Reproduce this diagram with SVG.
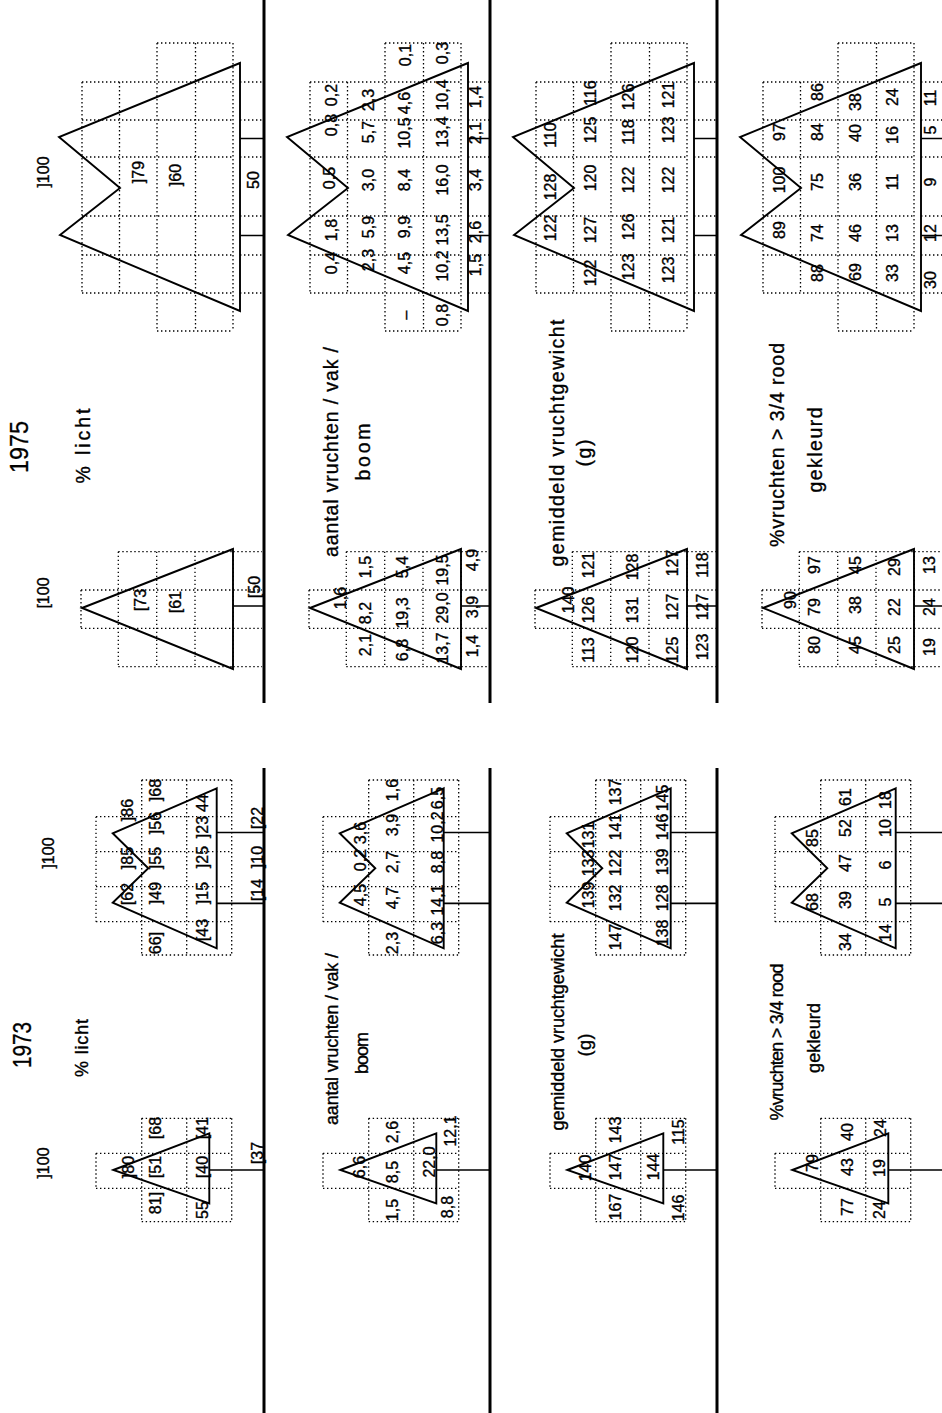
<svg xmlns="http://www.w3.org/2000/svg" xmlns:xlink="http://www.w3.org/1999/xlink" width="942" height="1413" viewBox="0 0 942 1413">
<style>
.sep{stroke:#000;stroke-width:3;fill:none}
.tree{fill:none;stroke:#000;stroke-width:1.9;stroke-linejoin:miter}
.trunk{stroke:#000;stroke-width:1.7;fill:none}
.grid{stroke:#000;stroke-width:1.3;stroke-dasharray:1.4 2.6;fill:none}
.n{font-family:"Liberation Sans Narrow","Liberation Sans",Arial,sans-serif;font-size:16px;text-anchor:middle;dominant-baseline:central;fill:#000;stroke:#000;stroke-width:0.35}
.lb{font-family:"Liberation Sans Narrow","Liberation Sans",Arial,sans-serif;font-size:19.5px;text-anchor:middle;dominant-baseline:central;fill:#000;stroke:#000;stroke-width:0.35}
.lb3{font-family:"Liberation Sans Narrow","Liberation Sans",Arial,sans-serif;font-size:18px;text-anchor:middle;dominant-baseline:central;fill:#000;stroke:#000;stroke-width:0.35}
.yr{font-family:"Liberation Sans Narrow","Liberation Sans",Arial,sans-serif;font-size:26px;text-anchor:middle;dominant-baseline:central;fill:#000;stroke:#000;stroke-width:0.3}
</style>
<defs>
<g id="t75L">
<path class="grid" d="M82,82V293M119.5,82V293M157,43V331M195.5,43V331M233,43V331M157,43H233M82,82H233M82,120H233M82,157H233M82,216H233M82,255H233M82,293H233M157,331H233M240,82H262M240,120H262M240,157H262M240,216H262M240,255H262M240,293H262"/>
<polygon class="tree" points="240,63 59,137 120,188 60,235 240,311"/>
</g>
<g id="t75S">
<path class="grid" d="M81,590V628.3M118.3,551.7V666.7M156.7,551.7V666.7M195,551.7V666.7M233.3,551.7V666.7M118.3,551.7H233.3M81,590H233.3M81,628.3H233.3M118.3,666.7H233.3M233.3,551.7H262M233.3,590H262M233.3,628.3H262M233.3,666.7H262"/>
<polygon class="tree" points="82,608 233,549 233,669"/>
</g>
<g id="t73L">
<path class="grid" d="M96,816.7V921.7M141.7,780V955M186.7,780V955M231.7,780V955M141.7,780H231.7M96,816.7H231.7M96,851.7H231.7M96,886.7H231.7M96,921.7H231.7M141.7,955H231.7"/>
<polygon class="tree" points="216.7,788.3 112.7,833.3 148.3,868.3 112.7,902.7 216.7,948.3"/>
</g>
<g id="t73S">
<path class="grid" d="M96,1153.3V1188.3M141.7,1118.3V1221.7M186.7,1118.3V1221.7M231.7,1118.3V1221.7M141.7,1118.3H231.7M96,1153.3H231.7M96,1188.3H231.7M141.7,1221.7H231.7"/>
<polygon class="tree" points="113.3,1170 209.3,1133.3 209.3,1203.3"/>
</g>
</defs>
<rect width="942" height="1413" fill="#fff"/>

<g id="connectors">
<path class="sep" d="M264,0V703M490,0V703M717,0V703M264,768V1413M490,768V1413M717,768V1413"/>
<path class="trunk" d="M240,138.5H264M240,235.5H264M468,138.5H490M468,235.5H490M694,138.5H717M694,235.5H717M921,138.5H942M921,235.5H942"/>
<path class="trunk" d="M233,606H264M461,606H490M687,606H717M914,606H942"/>
<path class="trunk" d="M216.7,832.5H264M443.7,832.5H490M670.7,832.5H717M895.7,832.5H942M216.7,903.3H264M443.7,903.3H490M670.7,903.3H717M895.7,903.3H942"/>
<path class="trunk" d="M209.3,1170H264M436.3,1170H490M663.3,1170H717M888.3,1170H942"/>
</g>

<g id="trees">
<use xlink:href="#t75L"/>
<use xlink:href="#t75L" transform="translate(228,0)"/>
<use xlink:href="#t75L" transform="translate(454,0)"/>
<use xlink:href="#t75L" transform="translate(681,0)"/>
<use xlink:href="#t75S"/>
<use xlink:href="#t75S" transform="translate(228,0)"/>
<use xlink:href="#t75S" transform="translate(454,0)"/>
<use xlink:href="#t75S" transform="translate(681,0)"/>
<use xlink:href="#t73L"/>
<use xlink:href="#t73L" transform="translate(227,0)"/>
<use xlink:href="#t73L" transform="translate(454,0)"/>
<use xlink:href="#t73L" transform="translate(679,0)"/>
<use xlink:href="#t73S"/>
<use xlink:href="#t73S" transform="translate(227,0)"/>
<use xlink:href="#t73S" transform="translate(454,0)"/>
<use xlink:href="#t73S" transform="translate(679,0)"/>
</g>

<g id="labels75">
<text class="yr" x="19" y="447" transform="rotate(-90 19 447)" textLength="52" lengthAdjust="spacingAndGlyphs">1975</text>
<text class="lb" x="83" y="446" transform="rotate(-90 83 446)" textLength="75">% licht</text>
<text class="lb" x="331" y="452" transform="rotate(-90 331 452)" textLength="210">aantal vruchten / vak /</text>
<text class="lb" x="363" y="452" transform="rotate(-90 363 452)" textLength="57">boom</text>
<text class="lb" x="557" y="443" transform="rotate(-90 557 443)" textLength="247">gemiddeld vruchtgewicht</text>
<text class="lb" x="584" y="453" transform="rotate(-90 584 453)" textLength="27">(g)</text>
<text class="lb" x="777" y="445" transform="rotate(-90 777 445)" textLength="204">%vruchten &gt; 3/4 rood</text>
<text class="lb" x="815" y="450" transform="rotate(-90 815 450)" textLength="85">gekleurd</text>
</g>

<g id="labels73">
<text class="yr" x="22" y="1045" transform="rotate(-90 22 1045)" textLength="46" lengthAdjust="spacingAndGlyphs">1973</text>
<text class="lb3" x="82" y="1048" transform="rotate(-90 82 1048)" textLength="58">% licht</text>
<text class="lb3" x="332" y="1039" transform="rotate(-90 332 1039)" textLength="172">aantal vruchten / vak /</text>
<text class="lb3" x="362" y="1053" transform="rotate(-90 362 1053)" textLength="42">boom</text>
<text class="lb3" x="558" y="1032" transform="rotate(-90 558 1032)" textLength="197">gemiddeld vruchtgewicht</text>
<text class="lb3" x="585" y="1045" transform="rotate(-90 585 1045)" textLength="23">(g)</text>
<text class="lb3" x="777" y="1042" transform="rotate(-90 777 1042)" textLength="157">%vruchten &gt; 3/4 rood</text>
<text class="lb3" x="814" y="1038" transform="rotate(-90 814 1038)" textLength="70">gekleurd</text>
</g>

<g id="v75L1">
<text class="n" x="43" y="172" transform="rotate(-90 43 172)">]100</text>
<text class="n" x="138" y="172" transform="rotate(-90 138 172)">]79</text>
<text class="n" x="175" y="175" transform="rotate(-90 175 175)">]60</text>
<text class="n" x="253" y="180" transform="rotate(-90 253 180)">50</text>
</g>
<g id="v75S1">
<text class="n" x="43" y="593" transform="rotate(-90 43 593)">[100</text>
<text class="n" x="140" y="600" transform="rotate(-90 140 600)">[73</text>
<text class="n" x="175" y="602" transform="rotate(-90 175 602)">[61</text>
<text class="n" x="254" y="587" transform="rotate(-90 254 587)">[50</text>
</g>

<g id="v75L2">
<text class="n" x="331" y="263" transform="rotate(-90 331 263)">0,4</text>
<text class="n" x="331" y="230" transform="rotate(-90 331 230)">1,8</text>
<text class="n" x="329" y="178" transform="rotate(-90 329 178)">0,5</text>
<text class="n" x="331" y="125" transform="rotate(-90 331 125)">0,8</text>
<text class="n" x="331" y="95" transform="rotate(-90 331 95)">0,2</text>
<text class="n" x="368" y="260" transform="rotate(-90 368 260)">2,3</text>
<text class="n" x="368" y="227" transform="rotate(-90 368 227)">5,9</text>
<text class="n" x="368" y="180" transform="rotate(-90 368 180)">3,0</text>
<text class="n" x="368" y="132" transform="rotate(-90 368 132)">5,7</text>
<text class="n" x="368" y="100" transform="rotate(-90 368 100)">2,3</text>
<text class="n" x="405" y="315" transform="rotate(-90 405 315)">–</text>
<text class="n" x="404" y="263" transform="rotate(-90 404 263)">4,5</text>
<text class="n" x="404" y="227" transform="rotate(-90 404 227)">9,9</text>
<text class="n" x="404" y="180" transform="rotate(-90 404 180)">8,4</text>
<text class="n" x="404" y="133" transform="rotate(-90 404 133)">10,5</text>
<text class="n" x="404" y="103" transform="rotate(-90 404 103)">4,6</text>
<text class="n" x="405" y="55" transform="rotate(-90 405 55)">0,1</text>
<text class="n" x="442" y="315" transform="rotate(-90 442 315)">0,8</text>
<text class="n" x="442" y="266" transform="rotate(-90 442 266)">10,2</text>
<text class="n" x="442" y="230" transform="rotate(-90 442 230)">13,5</text>
<text class="n" x="442" y="180" transform="rotate(-90 442 180)">16,0</text>
<text class="n" x="442" y="132" transform="rotate(-90 442 132)">13,4</text>
<text class="n" x="442" y="95" transform="rotate(-90 442 95)">10,4</text>
<text class="n" x="442" y="53" transform="rotate(-90 442 53)">0,3</text>
<text class="n" x="475" y="265" transform="rotate(-90 475 265)">1,5</text>
<text class="n" x="475" y="232" transform="rotate(-90 475 232)">2,6</text>
<text class="n" x="475" y="180" transform="rotate(-90 475 180)">3,4</text>
<text class="n" x="475" y="133" transform="rotate(-90 475 133)">2,1</text>
<text class="n" x="475" y="97" transform="rotate(-90 475 97)">1,4</text>
</g>

<g id="v75L3">
<text class="n" x="550" y="228" transform="rotate(-90 550 228)">122</text>
<text class="n" x="550" y="187" transform="rotate(-90 550 187)">128</text>
<text class="n" x="550" y="135" transform="rotate(-90 550 135)">110</text>
<text class="n" x="590" y="273" transform="rotate(-90 590 273)">122</text>
<text class="n" x="590" y="230" transform="rotate(-90 590 230)">127</text>
<text class="n" x="590" y="178" transform="rotate(-90 590 178)">120</text>
<text class="n" x="590" y="130" transform="rotate(-90 590 130)">125</text>
<text class="n" x="590" y="93" transform="rotate(-90 590 93)">116</text>
<text class="n" x="628" y="267" transform="rotate(-90 628 267)">123</text>
<text class="n" x="628" y="227" transform="rotate(-90 628 227)">126</text>
<text class="n" x="628" y="180" transform="rotate(-90 628 180)">122</text>
<text class="n" x="628" y="132" transform="rotate(-90 628 132)">118</text>
<text class="n" x="628" y="97" transform="rotate(-90 628 97)">126</text>
<text class="n" x="668" y="270" transform="rotate(-90 668 270)">123</text>
<text class="n" x="668" y="230" transform="rotate(-90 668 230)">121</text>
<text class="n" x="668" y="180" transform="rotate(-90 668 180)">122</text>
<text class="n" x="668" y="130" transform="rotate(-90 668 130)">123</text>
<text class="n" x="668" y="95" transform="rotate(-90 668 95)">121</text>
</g>

<g id="v75L4">
<text class="n" x="779" y="230" transform="rotate(-90 779 230)">89</text>
<text class="n" x="779" y="180" transform="rotate(-90 779 180)">100</text>
<text class="n" x="779" y="132" transform="rotate(-90 779 132)">97</text>
<text class="n" x="817" y="273" transform="rotate(-90 817 273)">88</text>
<text class="n" x="817" y="233" transform="rotate(-90 817 233)">74</text>
<text class="n" x="817" y="182" transform="rotate(-90 817 182)">75</text>
<text class="n" x="817" y="132" transform="rotate(-90 817 132)">84</text>
<text class="n" x="817" y="92" transform="rotate(-90 817 92)">86</text>
<text class="n" x="855" y="272" transform="rotate(-90 855 272)">69</text>
<text class="n" x="855" y="233" transform="rotate(-90 855 233)">46</text>
<text class="n" x="855" y="182" transform="rotate(-90 855 182)">36</text>
<text class="n" x="855" y="133" transform="rotate(-90 855 133)">40</text>
<text class="n" x="855" y="102" transform="rotate(-90 855 102)">38</text>
<text class="n" x="892" y="273" transform="rotate(-90 892 273)">33</text>
<text class="n" x="892" y="233" transform="rotate(-90 892 233)">13</text>
<text class="n" x="892" y="182" transform="rotate(-90 892 182)">11</text>
<text class="n" x="892" y="135" transform="rotate(-90 892 135)">16</text>
<text class="n" x="892" y="97" transform="rotate(-90 892 97)">24</text>
<text class="n" x="930" y="280" transform="rotate(-90 930 280)">30</text>
<text class="n" x="930" y="233" transform="rotate(-90 930 233)">12</text>
<text class="n" x="930" y="182" transform="rotate(-90 930 182)">9</text>
<text class="n" x="930" y="130" transform="rotate(-90 930 130)">5</text>
<text class="n" x="930" y="98" transform="rotate(-90 930 98)">11</text>
</g>

<g id="v75S2">
<text class="n" x="340" y="598" transform="rotate(-90 340 598)">1,6</text>
<text class="n" x="365" y="645" transform="rotate(-90 365 645)">2,1</text>
<text class="n" x="365" y="613" transform="rotate(-90 365 613)">8,2</text>
<text class="n" x="365" y="567" transform="rotate(-90 365 567)">1,5</text>
<text class="n" x="402" y="650" transform="rotate(-90 402 650)">6,8</text>
<text class="n" x="402" y="613" transform="rotate(-90 402 613)">19,3</text>
<text class="n" x="402" y="567" transform="rotate(-90 402 567)">5,4</text>
<text class="n" x="442" y="648" transform="rotate(-90 442 648)">13,7</text>
<text class="n" x="442" y="608" transform="rotate(-90 442 608)">29,0</text>
<text class="n" x="442" y="570" transform="rotate(-90 442 570)">19,5</text>
<text class="n" x="472" y="646" transform="rotate(-90 472 646)">1,4</text>
<text class="n" x="472" y="607" transform="rotate(-90 472 607)">3,9</text>
<text class="n" x="472" y="560" transform="rotate(-90 472 560)">4,9</text>
</g>
<g id="v75S3">
<text class="n" x="568" y="600" transform="rotate(-90 568 600)">140</text>
<text class="n" x="588" y="650" transform="rotate(-90 588 650)">113</text>
<text class="n" x="588" y="610" transform="rotate(-90 588 610)">126</text>
<text class="n" x="588" y="565" transform="rotate(-90 588 565)">121</text>
<text class="n" x="632" y="650" transform="rotate(-90 632 650)">120</text>
<text class="n" x="632" y="610" transform="rotate(-90 632 610)">131</text>
<text class="n" x="632" y="567" transform="rotate(-90 632 567)">128</text>
<text class="n" x="672" y="650" transform="rotate(-90 672 650)">125</text>
<text class="n" x="672" y="607" transform="rotate(-90 672 607)">127</text>
<text class="n" x="672" y="563" transform="rotate(-90 672 563)">127</text>
<text class="n" x="702" y="647" transform="rotate(-90 702 647)">123</text>
<text class="n" x="702" y="607" transform="rotate(-90 702 607)">127</text>
<text class="n" x="702" y="565" transform="rotate(-90 702 565)">118</text>
</g>
<g id="v75S4">
<text class="n" x="790" y="600" transform="rotate(-90 790 600)">90</text>
<text class="n" x="814" y="645" transform="rotate(-90 814 645)">80</text>
<text class="n" x="814" y="607" transform="rotate(-90 814 607)">79</text>
<text class="n" x="814" y="565" transform="rotate(-90 814 565)">97</text>
<text class="n" x="855" y="645" transform="rotate(-90 855 645)">45</text>
<text class="n" x="855" y="605" transform="rotate(-90 855 605)">38</text>
<text class="n" x="855" y="565" transform="rotate(-90 855 565)">45</text>
<text class="n" x="894" y="645" transform="rotate(-90 894 645)">25</text>
<text class="n" x="894" y="607" transform="rotate(-90 894 607)">22</text>
<text class="n" x="894" y="567" transform="rotate(-90 894 567)">29</text>
<text class="n" x="929" y="647" transform="rotate(-90 929 647)">19</text>
<text class="n" x="929" y="607" transform="rotate(-90 929 607)">24</text>
<text class="n" x="929" y="565" transform="rotate(-90 929 565)">13</text>
</g>

<g id="v73L1">
<text class="n" x="48" y="853" transform="rotate(-90 48 853)">]100</text>
<text class="n" x="127" y="894" transform="rotate(-90 127 894)">[62</text>
<text class="n" x="127" y="858" transform="rotate(-90 127 858)">]85</text>
<text class="n" x="127" y="810" transform="rotate(-90 127 810)">]86</text>
<text class="n" x="155" y="943" transform="rotate(-90 155 943)">66]</text>
<text class="n" x="155" y="893" transform="rotate(-90 155 893)">]49</text>
<text class="n" x="155" y="858" transform="rotate(-90 155 858)">]55</text>
<text class="n" x="155" y="823" transform="rotate(-90 155 823)">]56</text>
<text class="n" x="155" y="790" transform="rotate(-90 155 790)">]68</text>
<text class="n" x="202" y="930" transform="rotate(-90 202 930)">[43</text>
<text class="n" x="202" y="893" transform="rotate(-90 202 893)">]15</text>
<text class="n" x="202" y="857" transform="rotate(-90 202 857)">]25</text>
<text class="n" x="202" y="827" transform="rotate(-90 202 827)">]23</text>
<text class="n" x="202" y="803" transform="rotate(-90 202 803)">44</text>
<text class="n" x="257" y="890" transform="rotate(-90 257 890)">[14</text>
<text class="n" x="257" y="857" transform="rotate(-90 257 857)">]10</text>
<text class="n" x="257" y="818" transform="rotate(-90 257 818)">[22</text>
</g>
<g id="v73L2">
<text class="n" x="360" y="895" transform="rotate(-90 360 895)">4,5</text>
<text class="n" x="360" y="860" transform="rotate(-90 360 860)">0,2</text>
<text class="n" x="360" y="833" transform="rotate(-90 360 833)">3,6</text>
<text class="n" x="392" y="943" transform="rotate(-90 392 943)">2,3</text>
<text class="n" x="392" y="898" transform="rotate(-90 392 898)">4,7</text>
<text class="n" x="392" y="862" transform="rotate(-90 392 862)">2,7</text>
<text class="n" x="392" y="825" transform="rotate(-90 392 825)">3,9</text>
<text class="n" x="392" y="790" transform="rotate(-90 392 790)">1,6</text>
<text class="n" x="437" y="933" transform="rotate(-90 437 933)">6,3</text>
<text class="n" x="437" y="900" transform="rotate(-90 437 900)">14,1</text>
<text class="n" x="437" y="862" transform="rotate(-90 437 862)">8,8</text>
<text class="n" x="437" y="827" transform="rotate(-90 437 827)">10,2</text>
<text class="n" x="437" y="798" transform="rotate(-90 437 798)">6,5</text>
</g>
<g id="v73L3">
<text class="n" x="588" y="895" transform="rotate(-90 588 895)">139</text>
<text class="n" x="588" y="863" transform="rotate(-90 588 863)">133</text>
<text class="n" x="588" y="835" transform="rotate(-90 588 835)">131</text>
<text class="n" x="615" y="937" transform="rotate(-90 615 937)">147</text>
<text class="n" x="615" y="898" transform="rotate(-90 615 898)">132</text>
<text class="n" x="615" y="863" transform="rotate(-90 615 863)">122</text>
<text class="n" x="615" y="827" transform="rotate(-90 615 827)">141</text>
<text class="n" x="615" y="792" transform="rotate(-90 615 792)">137</text>
<text class="n" x="662" y="933" transform="rotate(-90 662 933)">138</text>
<text class="n" x="662" y="898" transform="rotate(-90 662 898)">128</text>
<text class="n" x="662" y="862" transform="rotate(-90 662 862)">139</text>
<text class="n" x="662" y="827" transform="rotate(-90 662 827)">146</text>
<text class="n" x="662" y="798" transform="rotate(-90 662 798)">145</text>
</g>
<g id="v73L4">
<text class="n" x="812" y="902" transform="rotate(-90 812 902)">68</text>
<text class="n" x="812" y="838" transform="rotate(-90 812 838)">85</text>
<text class="n" x="845" y="942" transform="rotate(-90 845 942)">34</text>
<text class="n" x="845" y="900" transform="rotate(-90 845 900)">39</text>
<text class="n" x="845" y="863" transform="rotate(-90 845 863)">47</text>
<text class="n" x="845" y="828" transform="rotate(-90 845 828)">52</text>
<text class="n" x="845" y="797" transform="rotate(-90 845 797)">61</text>
<text class="n" x="885" y="933" transform="rotate(-90 885 933)">14</text>
<text class="n" x="885" y="902" transform="rotate(-90 885 902)">5</text>
<text class="n" x="885" y="865" transform="rotate(-90 885 865)">6</text>
<text class="n" x="885" y="828" transform="rotate(-90 885 828)">10</text>
<text class="n" x="885" y="800" transform="rotate(-90 885 800)">18</text>
</g>

<g id="v73S1">
<text class="n" x="43" y="1163" transform="rotate(-90 43 1163)">]100</text>
<text class="n" x="128" y="1167" transform="rotate(-90 128 1167)">]80</text>
<text class="n" x="155" y="1203" transform="rotate(-90 155 1203)">81]</text>
<text class="n" x="155" y="1167" transform="rotate(-90 155 1167)">[51</text>
<text class="n" x="155" y="1128" transform="rotate(-90 155 1128)">[68</text>
<text class="n" x="202" y="1210" transform="rotate(-90 202 1210)">55</text>
<text class="n" x="202" y="1167" transform="rotate(-90 202 1167)">[40</text>
<text class="n" x="202" y="1128" transform="rotate(-90 202 1128)">[41</text>
<text class="n" x="257" y="1153" transform="rotate(-90 257 1153)">[37</text>
</g>
<g id="v73S2">
<text class="n" x="359" y="1167" transform="rotate(-90 359 1167)">6,6</text>
<text class="n" x="392" y="1210" transform="rotate(-90 392 1210)">1,5</text>
<text class="n" x="392" y="1172" transform="rotate(-90 392 1172)">8,5</text>
<text class="n" x="392" y="1132" transform="rotate(-90 392 1132)">2,6</text>
<text class="n" x="447" y="1207" transform="rotate(-90 447 1207)">8,8</text>
<text class="n" x="429" y="1162" transform="rotate(-90 429 1162)">22,0</text>
<text class="n" x="450" y="1131" transform="rotate(-90 450 1131)">12,1</text>
</g>
<g id="v73S3">
<text class="n" x="585" y="1168" transform="rotate(-90 585 1168)">140</text>
<text class="n" x="615" y="1207" transform="rotate(-90 615 1207)">167</text>
<text class="n" x="615" y="1167" transform="rotate(-90 615 1167)">147</text>
<text class="n" x="615" y="1130" transform="rotate(-90 615 1130)">143</text>
<text class="n" x="653" y="1167" transform="rotate(-90 653 1167)">144</text>
<text class="n" x="678" y="1208" transform="rotate(-90 678 1208)">146</text>
<text class="n" x="678" y="1132" transform="rotate(-90 678 1132)">115</text>
</g>
<g id="v73S4">
<text class="n" x="812" y="1163" transform="rotate(-90 812 1163)">79</text>
<text class="n" x="847" y="1207" transform="rotate(-90 847 1207)">77</text>
<text class="n" x="847" y="1167" transform="rotate(-90 847 1167)">43</text>
<text class="n" x="847" y="1132" transform="rotate(-90 847 1132)">40</text>
<text class="n" x="879" y="1210" transform="rotate(-90 879 1210)">24</text>
<text class="n" x="879" y="1168" transform="rotate(-90 879 1168)">19</text>
<text class="n" x="880" y="1128" transform="rotate(-90 880 1128)">24</text>
</g>
</svg>
